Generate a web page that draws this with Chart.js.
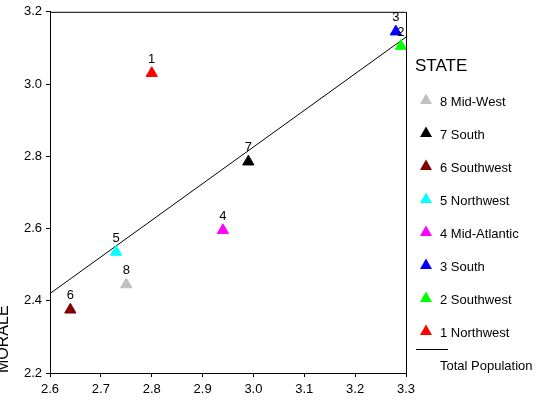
<!DOCTYPE html>
<html>
<head>
<meta charset="utf-8">
<script src="https://cdn.jsdelivr.net/npm/chart.js@4.4.1/dist/chart.umd.min.js"></script>
<style>
  body { margin: 0; background: #fff; }
  canvas { display: block; }
</style>
</head>
<body>
<canvas id="chart" width="536" height="410"></canvas>
<script>
// state means (x = unlabeled predictor, y = MORALE)
const stateIds = ["1", "2", "3", "4", "5", "6", "7", "8"];
const stateNames = ["1 Northwest", "2 Southwest", "3 South", "4 Mid-Atlantic", "5 Northwest", "6 Southwest", "7 South", "8 Mid-West"];
const stateX = [2.80, 3.29, 3.28, 2.94, 2.73, 2.64, 2.99, 2.75];
const stateY = [3.03, 3.105, 3.145, 2.595, 2.535, 2.375, 2.785, 2.445];
const stateColors = ["#ff0000", "#00ff00", "#0000ff", "#ff00ff", "#00ffff", "#800000", "#000000", "#c0c0c0"];

// fit line for the total population (end points)
const fitX = [2.6, 3.3];
const fitY = [2.42, 3.13];

const xTicks = [2.6, 2.7, 2.8, 2.9, 3.0, 3.1, 3.2, 3.3];
const yTicks = [2.2, 2.4, 2.6, 2.8, 3.0, 3.2];

const FONT = "'Liberation Sans', Arial, sans-serif";

// legend order is 8 .. 1, then the line
const datasets = [];
for (let i = stateIds.length - 1; i >= 0; i--) {
  datasets.push({
    label: stateNames[i],
    id: stateIds[i],
    data: [{ x: stateX[i], y: stateY[i] }],
    pointStyle: "triangle",
    pointRadius: 6.5,
    pointHoverRadius: 6.5,
    borderWidth: 1,
    borderColor: stateColors[i],
    backgroundColor: stateColors[i],
    clip: false,
  });
}
datasets.push({
  label: "Total Population",
  data: fitX.map((x, i) => ({ x: x, y: fitY[i] })),
  showLine: true,
  borderColor: "#000",
  borderWidth: 1,
  pointRadius: 0,
  fill: false,
});

// box, point numbers, legend and the y title
const extras = {
  id: "extras",
  afterDatasetsDraw(chart) {
    const ctx = chart.ctx;
    const area = chart.chartArea;
    ctx.save();

    ctx.strokeStyle = "#000";
    ctx.lineWidth = 1;
    ctx.beginPath();
    ctx.moveTo(area.left, area.top + 0.5);
    ctx.lineTo(area.right + 0.5, area.top + 0.5);
    ctx.lineTo(area.right + 0.5, area.bottom);
    ctx.stroke();

    // numbers above the triangles
    ctx.fillStyle = "#000";
    ctx.font = "13px " + FONT;
    ctx.textAlign = "center";
    ctx.textBaseline = "middle";
    chart.data.datasets.forEach((ds, i) => {
      if (!ds.id) return;
      const pt = chart.getDatasetMeta(i).data[0];
      ctx.fillText(ds.id, pt.x, pt.y - 14);
    });

    // legend
    ctx.textAlign = "left";
    ctx.font = "17px " + FONT;
    ctx.fillText("STATE", 415, 66);
    ctx.font = "13px " + FONT;
    const states = chart.data.datasets.filter((ds) => ds.id);
    states.forEach((ds, i) => {
      const cy = 99 + i * 33;
      ctx.fillStyle = ds.backgroundColor;
      ctx.beginPath();
      ctx.moveTo(426, cy - 5.5);
      ctx.lineTo(432, cy + 5);
      ctx.lineTo(420, cy + 5);
      ctx.closePath();
      ctx.fill();
      ctx.fillStyle = "#000";
      ctx.fillText(ds.label, 440, cy + 3.5);
    });
    ctx.beginPath();
    ctx.moveTo(416, 349.5);
    ctx.lineTo(448, 349.5);
    ctx.stroke();
    ctx.fillText("Total Population", 440, 366);

    // y axis title
    ctx.translate(7.5, area.bottom);
    ctx.rotate(-Math.PI / 2);
    ctx.font = "16px " + FONT;
    ctx.textBaseline = "alphabetic";
    ctx.fillText("MORALE", 0, 0);
    ctx.restore();
  },
};

const axisStyle = {
  grid: { display: true, drawOnChartArea: false, drawTicks: true, tickLength: 4, color: "#000" },
  border: { display: true, color: "#000", width: 1 },
};

new Chart(document.getElementById("chart"), {
  type: "scatter",
  data: { datasets: datasets },
  options: {
    responsive: false,
    animation: false,
    events: [],
    layout: { padding: { top: 6, right: 130, left: 0, bottom: 0 } },
    plugins: { legend: { display: false }, tooltip: { enabled: false } },
    scales: {
      x: {
        type: "linear",
        min: 2.6,
        max: 3.3,
        ...axisStyle,
        afterBuildTicks: (scale) => { scale.ticks = xTicks.map((v) => ({ value: v })); },
        afterFit: (scale) => { scale.height = 37; },
        ticks: {
          color: "#000",
          padding: 5,
          font: { family: FONT, size: 13 },
          callback: (v) => Number(v).toFixed(1),
        },
      },
      y: {
        type: "linear",
        min: 2.2,
        max: 3.2,
        ...axisStyle,
        afterBuildTicks: (scale) => { scale.ticks = yTicks.map((v) => ({ value: v })); },
        afterFit: (scale) => { scale.width = 50; },
        ticks: {
          color: "#000",
          padding: 4,
          font: { family: FONT, size: 13 },
          callback: (v) => Number(v).toFixed(1),
        },
      },
    },
  },
  plugins: [extras],
});
</script>
</body>
</html>
